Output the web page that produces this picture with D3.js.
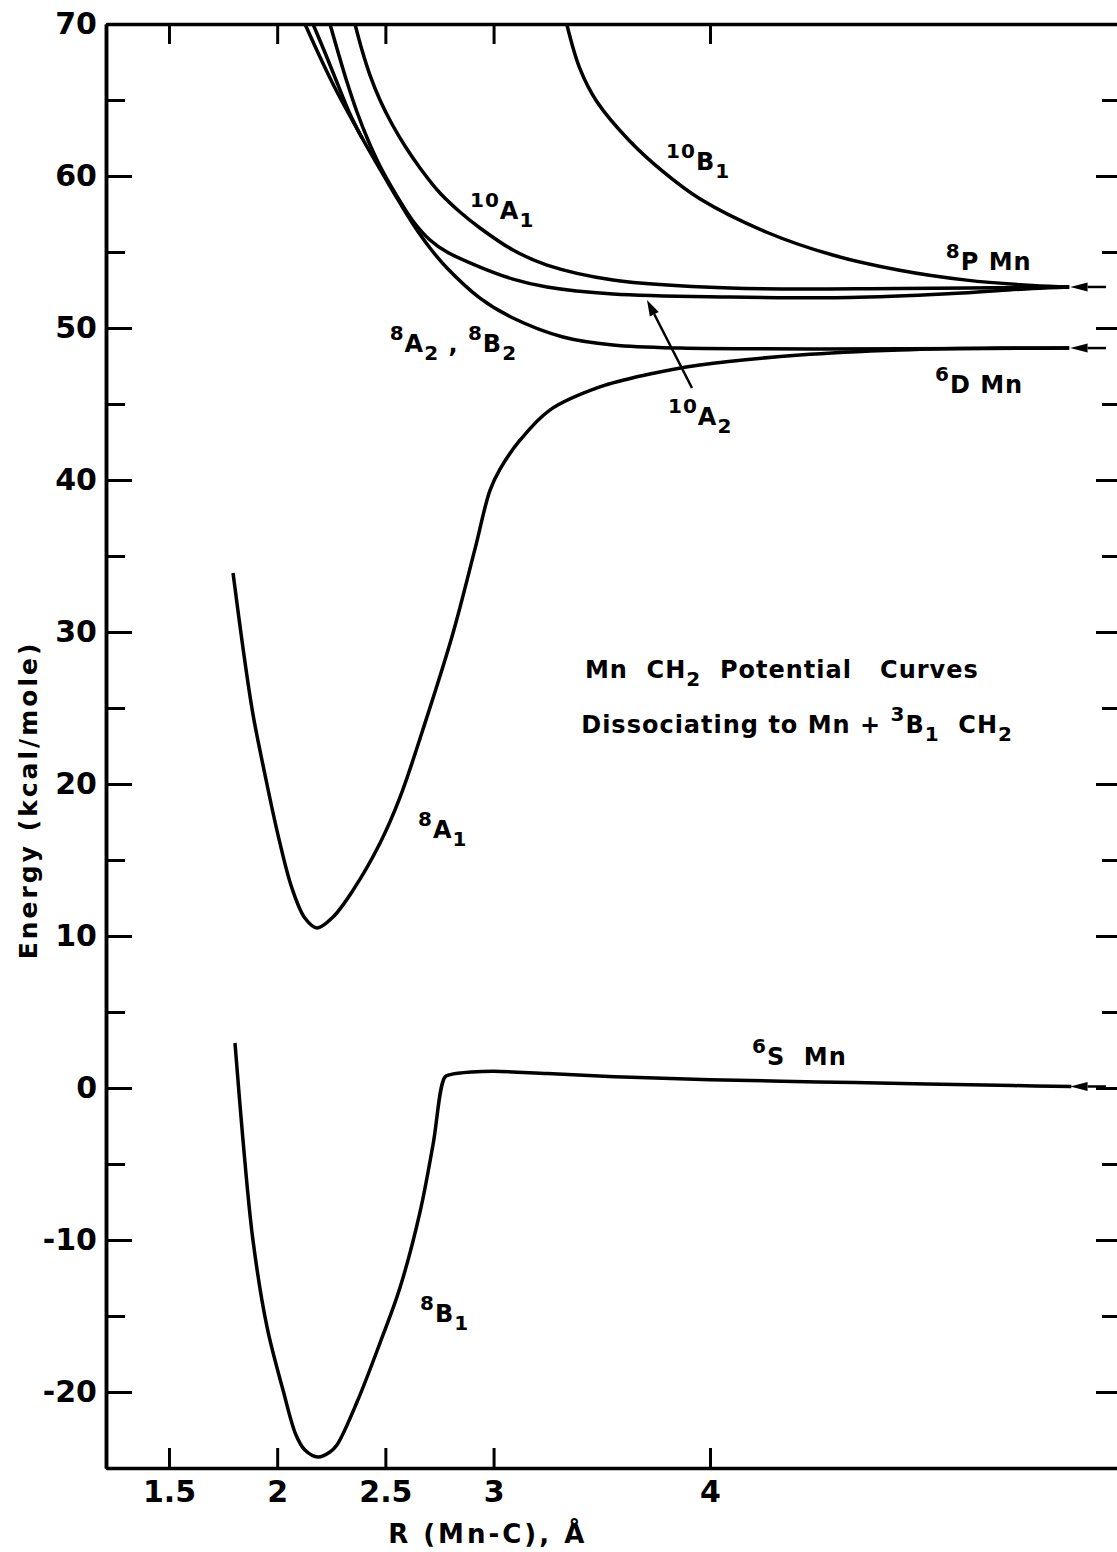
<!DOCTYPE html>
<html>
<head>
<meta charset="utf-8">
<script src="https://cdn.jsdelivr.net/npm/d3@7"></script>
<style>
  body { margin: 0; background: #fff; }
  text { font-family: "DejaVu Sans", sans-serif; font-weight: bold; fill: #000; }
</style>
</head>
<body>
<div id="chart"></div>
<script>
const W = 1117, H = 1552
// plot frame (px); right edge sits just off the page like in the scan
const frame = {left: 106, right: 1122, top: 24, bottom: 1468}

const xDomain = [1.209, 5.904]
const yDomain = [-25, 70]
const xTicks = [1.5, 2, 2.5, 3, 4]
const xTickLabels = ['1.5', '2', '2.5', '3', '4']
const yMajor = [-20, -10, 0, 10, 20, 30, 40, 50, 60, 70]
const yTickLabels = ['-20', '-10', '0', '10', '20', '30', '40', '50', '60', '70']
const yMinor = [-25, -15, -5, 5, 15, 25, 35, 45, 55, 65]

// potential curves, [R (Å), E (kcal/mole)]
const c8B1 = [[1.805, 2.96], [1.842, -3.42], [1.888, -10.0], [1.953, -15.72], [2.027, -19.87],
  [2.087, -22.83], [2.128, -23.82], [2.189, -24.28], [2.244, -23.95], [2.276, -23.49],
  [2.369, -20.66], [2.475, -16.78], [2.567, -13.16], [2.66, -8.16], [2.72, -3.75], [2.775, 0.72],
  [2.80, 0.88], [2.9, 1.05], [3.0, 1.1], [3.25, 0.95], [3.6, 0.72], [4.0, 0.55], [4.5, 0.4],
  [5.0, 0.27], [5.4, 0.16], [5.67, 0.1]]
const c8A1 = [[1.796, 33.88], [1.842, 28.95], [1.888, 24.6], [1.944, 20.59], [2.004, 16.64],
  [2.068, 13.16], [2.128, 11.18], [2.184, 10.53], [2.258, 11.25], [2.35, 13.0], [2.475, 16.1],
  [2.567, 19.1], [2.692, 24.4], [2.812, 29.9], [2.913, 35.4], [2.983, 39.3], [3.029, 40.7],
  [3.121, 42.6], [3.26, 44.6], [3.491, 46.12], [3.722, 46.97], [3.953, 47.57], [4.415, 48.22],
  [4.876, 48.55], [5.338, 48.68], [5.66, 48.68]]
const c8A2 = [[2.1285, 70], [2.1978, 67.83], [2.2671, 65.79], [2.3364, 63.95], [2.4057, 62.17],
  [2.475, 60.46], [2.5536, 58.55], [2.6275, 56.84], [2.7061, 55.26], [2.7847, 53.95],
  [2.9372, 51.97], [3.0896, 50.66], [3.3207, 49.41], [3.5518, 48.88], [3.8614, 48.68], [5.66, 48.68]]
const c8B2 = [[2.1654, 70], [2.2255, 67.96], [2.281, 65.99], [2.3364, 64.08], [2.3919, 62.5]]
const c10A2 = [[2.244, 70], [2.281, 68.16], [2.3226, 66.18], [2.3688, 64.21], [2.4196, 62.37],
  [2.475, 60.66], [2.5536, 58.68], [2.6275, 57.04], [2.7061, 55.79], [2.7847, 55.0],
  [2.9372, 54.01], [3.0896, 53.22], [3.2468, 52.7], [3.5518, 52.24], [4.0924, 52.04],
  [4.645, 52.0], [5.1, 52.25], [5.49, 52.6], [5.66, 52.7]]
const c10A1 = [[2.3595, 70], [2.3919, 68.29], [2.4288, 66.64], [2.475, 65.0], [2.5305, 63.42],
  [2.5906, 61.97], [2.6599, 60.53], [2.7523, 58.88], [2.8447, 57.63], [2.9372, 56.58],
  [3.0896, 55.13], [3.2468, 54.14], [3.5518, 53.16], [4.0924, 52.63], [4.876, 52.6], [5.66, 52.7]]
const c10B1 = [[3.338, 70], [3.398, 67.1], [3.477, 64.9], [3.629, 62.3], [3.782, 60.3],
  [3.953, 58.5], [4.262, 56.3], [4.567, 54.8], [4.876, 53.8], [5.186, 53.15], [5.49, 52.8], [5.66, 52.7]]
const curves = [c8B1, c8A1, c8A2, c8B2, c10A2, c10A1, c10B1]

// dissociation limits marked with arrows at the right edge
const limits = [52.7, 48.68, 0.1]

// labels: [R, E, parts]; parts are [text, 'sup'|'sub'|'']
const labels = [
  [3.797, 60.4, [['10', 'sup'], ['B', ''], ['1', 'sub']]],
  [2.891, 57.2, [['10', 'sup'], ['A', ''], ['1', 'sub']]],
  [5.09, 53.8, [['8', 'sup'], ['P Mn', '']]],
  [2.52, 48.4, [['8', 'sup'], ['A', ''], ['2', 'sub'], [' , ', ''], ['8', 'sup'], ['B', ''], ['2', 'sub']]],
  [3.806, 43.6, [['10', 'sup'], ['A', ''], ['2', 'sub']]],
  [5.04, 45.7, [['6', 'sup'], ['D Mn', '']]],
  [3.422, 27.0, [['Mn  CH', ''], ['2', 'sub'], ['  Potential   Curves', '']]],
  [3.405, 23.35, [['Dissociating to Mn + ', ''], ['3', 'sup'], ['B', ''], ['1', 'sub'], ['  CH', ''], ['2', 'sub']]],
  [2.651, 16.45, [['8', 'sup'], ['A', ''], ['1', 'sub']]],
  [4.194, 1.5, [['6', 'sup'], ['S  Mn', '']]],
  [2.66, -15.4, [['8', 'sup'], ['B', ''], ['1', 'sub']]]
]
// 10A2 pointer: tail -> tip
const pointer = [[3.917, 46.05], [3.709, 51.84]]

const x = d3.scaleLinear().domain(xDomain).range([frame.left, frame.right])
const y = d3.scaleLinear().domain(yDomain).range([frame.bottom, frame.top])

const svg = d3.select('#chart').append('svg')
  .attr('width', W).attr('height', H)

svg.append('defs').append('clipPath').attr('id', 'plot')
  .append('rect')
  .attr('x', frame.left).attr('y', frame.top)
  .attr('width', frame.right - frame.left).attr('height', frame.bottom - frame.top)

// axes
const yLeft = d3.axisLeft(y).tickValues(yMajor).tickSize(-26).tickSizeOuter(0).tickPadding(9)
  .tickFormat((d, i) => yTickLabels[i])
svg.append('g').attr('transform', `translate(${frame.left},0)`).call(yLeft)
svg.append('g').attr('transform', `translate(${frame.left},0)`)
  .call(d3.axisLeft(y).tickValues(yMinor).tickSize(-19).tickSizeOuter(0).tickFormat(''))
svg.append('g').attr('transform', `translate(${frame.right},0)`)
  .call(d3.axisRight(y).tickValues(yMajor).tickSize(-26).tickSizeOuter(0).tickFormat(''))
svg.append('g').attr('transform', `translate(${frame.right},0)`)
  .call(d3.axisRight(y).tickValues(yMinor).tickSize(-20).tickSizeOuter(0).tickFormat(''))
svg.append('g').attr('transform', `translate(0,${frame.bottom})`)
  .call(d3.axisBottom(x).tickValues(xTicks).tickSize(-20).tickSizeOuter(0).tickPadding(13)
    .tickFormat((d, i) => xTickLabels[i]))
svg.append('g').attr('transform', `translate(0,${frame.top})`)
  .call(d3.axisTop(x).tickValues(xTicks).tickSize(-20).tickSizeOuter(0).tickFormat(''))

svg.selectAll('.domain').attr('stroke', '#000').attr('stroke-width', 3.5)
svg.selectAll('.tick line').attr('stroke', '#000').attr('stroke-width', 3)
svg.selectAll('.tick text').style('font-size', '30px').attr('fill', '#000')
  .style('font-family', '"DejaVu Sans", sans-serif').style('font-weight', 'bold')

// axis titles
svg.append('text')
  .attr('x', x(2.973)).attr('y', 1543)
  .attr('text-anchor', 'middle')
  .style('font-size', '26px').style('letter-spacing', '3px')
  .text('R (Mn-C), Å')
svg.append('text')
  .attr('transform', `translate(37,${y(18.95)}) rotate(-90)`)
  .attr('text-anchor', 'middle')
  .style('font-size', '25px').style('letter-spacing', '3px')
  .text('Energy  (kcal/mole)')

// curves
const line = d3.line()
  .x(d => x(d[0]))
  .y(d => y(d[1]))
  .curve(d3.curveCatmullRom.alpha(0.5))

svg.append('g').attr('clip-path', 'url(#plot)')
  .selectAll('path')
  .data(curves)
  .join('path')
  .attr('d', line)
  .attr('fill', 'none')
  .attr('stroke', '#000')
  .attr('stroke-width', 3.5)
  .attr('stroke-linejoin', 'round')

// limit arrows: head pointing left, short tail to the right
const lim = svg.append('g')
limits.forEach(e => {
  const tip = x(5.665), base = x(5.745), end = x(5.83), yy = y(e)
  lim.append('path')
    .attr('d', `M${tip},${yy}L${base},${yy - 4.5}L${base},${yy + 4.5}Z`)
    .attr('fill', '#000')
  lim.append('line')
    .attr('x1', base).attr('x2', end).attr('y1', yy).attr('y2', yy)
    .attr('stroke', '#000').attr('stroke-width', 2.5)
})

// pointer to the 10A2 curve
{
  const [a, b] = pointer.map(p => [x(p[0]), y(p[1])])
  const ang = Math.atan2(b[1] - a[1], b[0] - a[0])
  const len = 16, hw = 5
  const bx = b[0] - len * Math.cos(ang), by = b[1] - len * Math.sin(ang)
  svg.append('line')
    .attr('x1', a[0]).attr('y1', a[1]).attr('x2', bx).attr('y2', by)
    .attr('stroke', '#000').attr('stroke-width', 2.5)
  svg.append('path')
    .attr('d', `M${b[0]},${b[1]}L${bx + hw * Math.sin(ang)},${by - hw * Math.cos(ang)}L${bx - hw * Math.sin(ang)},${by + hw * Math.cos(ang)}Z`)
    .attr('fill', '#000')
}

// labels with super/subscripts
const lab = svg.append('g').style('font-size', '24px').style('letter-spacing', '1px')
labels.forEach(([r, e, parts]) => {
  const t = lab.append('text').attr('x', x(r)).attr('y', y(e)).attr('xml:space', 'preserve')
  let shift = 0
  parts.forEach(([s, kind]) => {
    const target = kind === 'sup' ? -12 : kind === 'sub' ? 8 : 0
    t.append('tspan')
      .attr('dy', target - shift)
      .style('font-size', kind ? '20px' : null)
      .text(s)
    shift = target
  })
})
</script>
</body>
</html>
